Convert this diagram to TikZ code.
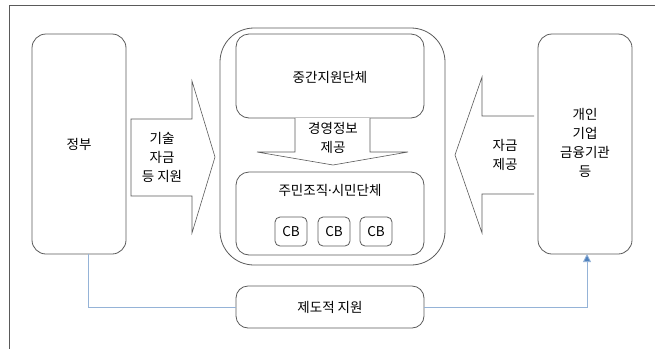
\documentclass[tikz,border=0pt]{standalone}
\usepackage{fontspec}
\setmainfont{Noto Sans CJK KR}
\newfontfamily\dotfont{Noto Sans}
\usetikzlibrary{arrows.meta}
\definecolor{lc}{HTML}{5A5A5A}
\definecolor{bl}{HTML}{95B3D7}
\definecolor{bld}{HTML}{4F81BD}
\begin{document}
\begin{tikzpicture}[x=1pt,y=-1pt,
  box/.style={draw=lc,line width=0.8pt,rounded corners=#1},
  box/.default=14pt,
  lbl/.style={font=\fontsize{13.5}{19}\selectfont,align=center,inner sep=0pt},
  conn/.style={draw=bl,line width=0.8pt},
  blk/.style={draw=lc,line width=0.6pt,fill=white}]
\useasboundingbox (0,0) rectangle (655,349);
\draw[lc,line width=0.7pt] (655,5) -- (9,5) -- (9,349);
% side boxes
\draw[box] (32,34) rectangle (126,254);
\node[lbl] (gov) at (79,144) {정부};
\coordinate (govb) at (88,254);
\draw[box] (538,34) rectangle (632,254);
\node[lbl] (priv) at (585,143) {개인\\기업\\금융기관\\등};
\coordinate (privb) at (587,254);
% container
\draw[box=34pt] (220,28) rectangle (445,265);
\draw[box=13pt] (236,34) rectangle (424,118);
\node[lbl] (mid) at (330,77) {중간지원단체};
% down arrow
\draw[blk] (295,118) -- (295,152) -- (257,152) -- (333,165) -- (408,152) -- (370,152) -- (370,118);
\node[lbl] (info) at (333,138) {경영정보\\제공};
\draw[box=13pt] (236,172) rectangle (424,255);
\node[lbl] (res) at (330,190) {주민조직{\dotfont·}시민단체};
\foreach \i/\x in {1/291,2/334,3/376}{
  \draw[box=5pt] (\x-16,217) rectangle (\x+16,246);
  \node[lbl] (cb\i) at (\x,232) {CB};
}
% left block arrow
\draw[blk] (131,119) -- (192,119) -- (192,81) -- (215,157) -- (192,233) -- (192,196) -- (131,196) -- cycle;
\node[lbl] (tech) at (162,157) {기술\\자금\\등 지원};
% right block arrow
\draw[blk] (534,116) -- (482,116) -- (482,77) -- (455,155) -- (482,233) -- (482,194) -- (534,194);
\node[lbl] (fund) at (505,155) {자금\\제공};
% bottom box
\node[box=12pt,lbl,minimum width=188pt,minimum height=42pt] (inst) at (330,307) {제도적 지원};
\draw[conn] (govb) |- (inst.west);
\draw[conn,-{Triangle[length=8pt,width=8pt,fill=bld]}] (inst.east) -| (privb);
\end{tikzpicture}
\end{document}
